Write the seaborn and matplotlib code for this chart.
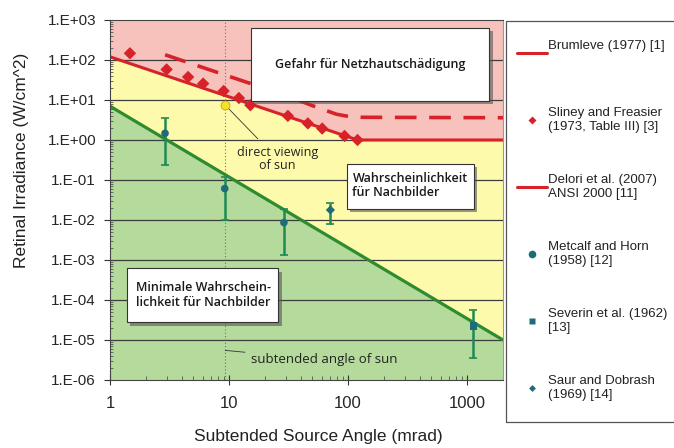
import numpy as np
import matplotlib
matplotlib.use("Agg")
import matplotlib.pyplot as plt
import matplotlib.patheffects as pe
from matplotlib.lines import Line2D
from matplotlib.patches import Rectangle
from matplotlib.ticker import FixedLocator, FuncFormatter, LogLocator, NullFormatter
import seaborn as sns

# --- data ---
# ANSI 2000 / Delori et al. limit (solid red)
ansi_x = [1, 120, 2000]
ansi_y = [120, 1.0, 1.0]

# Brumleve (1977) (dashed red)
brum_x = [2.9, 10, 30, 55, 80, 110, 2000]
brum_y = [135, 39, 13, 6.5, 4.4, 3.7, 3.6]

# afterimage threshold (green line)
green_x = [1, 2000]
green_y = [7.0, 1e-5]

# Sliney and Freasier (1973)
sliney_x = [1.47, 2.99, 4.53, 6.06, 9.0, 12.1, 15.1, 31.2, 45.9, 60.6, 93.4, 120]
sliney_y = [147, 58, 37.6, 25.7, 16.8, 11.2, 7.4, 4.0, 2.6, 1.93, 1.26, 1.0]

# Metcalf and Horn (1958)
metcalf_x = [2.9, 9.2, 28.9]
metcalf_y = [1.47, 0.061, 0.0086]
metcalf_lo = [0.237, 0.010, 0.0013]
metcalf_hi = [3.6, 0.12, 0.019]

# Saur and Dobrash (1969)
saur_x = [71]
saur_y = [0.0178]
saur_lo = [0.0078]
saur_hi = [0.027]

# Severin et al. (1962)
severin_x = [1128]
severin_y = [2.2e-5]
severin_lo = [3.5e-6]
severin_hi = [5.6e-5]

# direct viewing of the sun
sun_angle = 9.3
sun_irr = 7.4

y_ticks = [1e3, 1e2, 1e1, 1e0, 1e-1, 1e-2, 1e-3, 1e-4, 1e-5, 1e-6]
x_ticks = [1, 10, 100, 1000]

legend_labels = [
    "Brumleve (1977) [1]\n ",
    "Sliney and Freasier\n(1973, Table III) [3]",
    "Delori et al. (2007)\nANSI 2000 [11]",
    "Metcalf and Horn\n(1958) [12]",
    "Severin et al. (1962)\n[13]",
    "Saur and Dobrash\n(1969) [14]",
]

RED = "#d8222a"
PINK = "#f6c2bb"
YELLOW = "#fdfbab"
GREEN_FILL = "#b4da9c"
GREEN_LINE = "#2e8b2e"
TEAL = "#1d6c78"
ERR = "#1f8a55"

sns.set_style("white")
plt.rcParams["font.family"] = ["Liberation Sans", "DejaVu Sans"]

fig = plt.figure(figsize=(6.74, 4.48), dpi=100)
ax = fig.add_axes([0.1632, 0.1518, 0.5831, 0.8036])
ax.set_xscale("log")
ax.set_yscale("log")
ax.set_xlim(1, 2000)
ax.set_ylim(1e-6, 1e3)
ax.set_facecolor(PINK)

# coloured zones
ax.fill(ansi_x + green_x[::-1], ansi_y + green_y[::-1], color=YELLOW, zorder=0.5, lw=0)
ax.fill(green_x + green_x[::-1], green_y + [1e-6, 1e-6], color=GREEN_FILL, zorder=0.5, lw=0)

# grid
for v in y_ticks[1:-1]:
    ax.axhline(v, color="#3c3c3c", lw=0.9, zorder=1)
ax.axvline(sun_angle, color="#77775a", lw=0.8, ls=(0, (1, 2)), zorder=1)

# lines
sns.lineplot(x=green_x, y=green_y, ax=ax, color=GREEN_LINE, lw=2.3, estimator=None, sort=False, zorder=3)
sns.lineplot(x=ansi_x, y=ansi_y, ax=ax, color=RED, lw=2.2, estimator=None, sort=False, zorder=3)
sns.lineplot(x=brum_x, y=brum_y, ax=ax, color=RED, lw=2.6, estimator=None, sort=False,
             linestyle=(0, (6, 3.5)), zorder=3)

# Sliney diamonds
sns.scatterplot(x=sliney_x, y=sliney_y, ax=ax, marker="D", s=40, color=RED,
                edgecolor="none", zorder=4, legend=False)

# measured thresholds with error bars
def err_points(xs, ys, lo, hi, marker, size):
    ys = np.array(ys)
    yerr = [ys - np.array(lo), np.array(hi) - ys]
    ax.errorbar(xs, ys, yerr=yerr, fmt="none", ecolor=ERR, elinewidth=1.8,
                capsize=3, capthick=1.2, zorder=4)
    sns.scatterplot(x=xs, y=ys, ax=ax, marker=marker, s=size, color=TEAL,
                    edgecolor="none", zorder=5, legend=False)

err_points(metcalf_x, metcalf_y, metcalf_lo, metcalf_hi, "o", 30)
err_points(saur_x, saur_y, saur_lo, saur_hi, "D", 22)
err_points(severin_x, severin_y, severin_lo, severin_hi, "s", 30)

# sun marker + annotations
sns.scatterplot(x=[sun_angle], y=[sun_irr], ax=ax, marker="o", s=40, color="#f7e026",
                edgecolor="#c9a800", linewidth=0.6, zorder=5, legend=False)
ax.annotate("direct viewing\nof sun", xy=(sun_angle, sun_irr), xytext=(25.6, 0.33),
            ha="center", va="center", fontsize=9, family="Open Sans", color="#222",
            linespacing=1.05,
            arrowprops=dict(arrowstyle="-", color="#333", lw=0.6, shrinkA=4, shrinkB=3))
ax.annotate("subtended angle of sun", xy=(sun_angle, 5.5e-6), xytext=(63, 3.2e-6),
            ha="center", va="center", fontsize=9.5, family="Open Sans", color="#222",
            arrowprops=dict(arrowstyle="-", color="#333", lw=0.6, shrinkA=2, shrinkB=0))

# labelled boxes (axes fraction)
def label_box(x0, y0, x1, y1, text, tx, ty, ha):
    r = Rectangle((x0, y0), x1 - x0, y1 - y0, transform=ax.transAxes, fc="white",
                  ec="#333", lw=0.8, zorder=6)
    r.set_path_effects([pe.SimplePatchShadow(offset=(2.5, -2.5), shadow_rgbFace="#555", alpha=0.6),
                        pe.Normal()])
    ax.add_patch(r)
    ax.text(tx, ty, text, transform=ax.transAxes, ha=ha, va="center", fontsize=9,
            family="Open Sans", weight="semibold", color="#1a1a1a", linespacing=1.15, zorder=7)

label_box(0.358, 0.775, 0.965, 0.978, "Gefahr für Netzhautschädigung", 0.6615, 0.876, "center")
label_box(0.602, 0.475, 0.926, 0.600, "Wahrscheinlichkeit\nfür Nachbilder", 0.617, 0.540, "left")
label_box(0.0425, 0.161, 0.428, 0.311, "Minimale Wahrschein-\nlichkeit für Nachbilder", 0.066, 0.236, "left")

# axes styling
ax.yaxis.set_major_locator(FixedLocator(y_ticks))
ax.yaxis.set_major_formatter(FuncFormatter(lambda v, p: f"1.E{int(round(np.log10(v))):+03d}"))
ax.yaxis.set_minor_locator(LogLocator(base=10, subs=np.arange(2, 10)))
ax.yaxis.set_minor_formatter(NullFormatter())
ax.xaxis.set_major_locator(FixedLocator(x_ticks))
ax.xaxis.set_major_formatter(FuncFormatter(lambda v, p: f"{v:g}"))
ax.xaxis.set_minor_locator(LogLocator(base=10, subs=np.arange(2, 10)))
ax.xaxis.set_minor_formatter(NullFormatter())

ax.tick_params(axis="y", which="major", direction="out", length=4, width=0.8,
               labelsize=11, color="#333", pad=6)
ax.tick_params(axis="y", which="minor", direction="in", length=2.5, width=0.6, color="#555")
ax.tick_params(axis="x", which="major", direction="inout", length=7, width=0.8,
               labelsize=12, color="#333", pad=8)
ax.tick_params(axis="x", which="minor", direction="in", length=3, width=0.6, color="#555")
ax.tick_params(left=True, bottom=True, which="both")

for side, sp in ax.spines.items():
    sp.set_visible(True)
    sp.set_color("#444" if side in ("left", "bottom", "top") else "#999")
    sp.set_linewidth(0.8)
    sp.set_zorder(8)

ax.set_xlabel("Subtended Source Angle (mrad)", fontsize=12.5, color="#222")
ax.set_ylabel("Retinal Irradiance (W/cm^2)", fontsize=12.5, color="#222")
ax.xaxis.set_label_coords(0.53, -0.135)
ax.yaxis.set_label_coords(-0.205, 0.61)

# legend on the right: frame drawn separately so it runs off the right edge
frame = Rectangle((506 / 674, 1 - 422 / 448), 0.3, (422 - 21) / 448,
                  transform=fig.transFigure, fill=False, ec="#555", lw=0.9)
fig.patches.append(frame)

handles = [
    Line2D([], [], color=RED, lw=2.2),
    Line2D([], [], color=RED, marker="D", ms=4, ls="none", mec="none"),
    Line2D([], [], color=RED, lw=2.2),
    Line2D([], [], color=TEAL, marker="o", ms=5.5, ls="none", mec="none"),
    Line2D([], [], color=TEAL, marker="s", ms=5, ls="none", mec="none"),
    Line2D([], [], color=TEAL, marker="D", ms=3.5, ls="none", mec="none"),
]
leg = fig.legend(handles, legend_labels, loc="upper left",
                 bbox_to_anchor=(517 / 674, 1 - 40 / 448), bbox_transform=fig.transFigure,
                 frameon=False, fontsize=9.5,
                 labelspacing=3.13, borderpad=0, handlelength=2.27, handletextpad=0.1,
                 borderaxespad=0)
for t in leg.get_texts():
    t.set_color("#222")

fig.savefig("out.png", dpi=100)
